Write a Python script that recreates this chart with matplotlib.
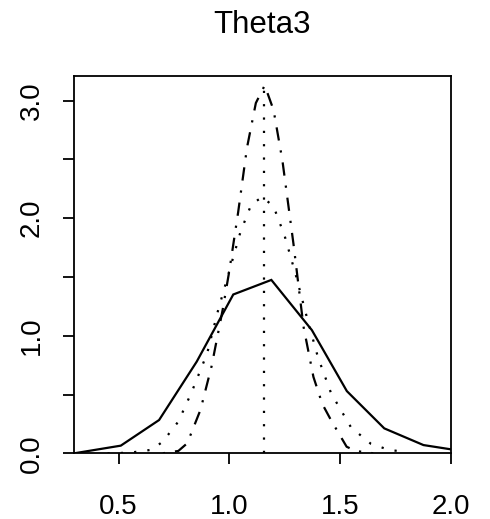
import matplotlib

matplotlib.use("Agg")

import matplotlib.pyplot as plt

plt.rcParams["font.family"] = ["Liberation Sans", "DejaVu Sans"]

# solid curve (polyline)
solid_x = [0.30, 0.51, 0.683, 0.853, 1.018, 1.19, 1.373, 1.531, 1.70, 1.877, 2.00]
solid_y = [0.0, 0.065, 0.283, 0.78, 1.351, 1.475, 1.048, 0.529, 0.212, 0.07, 0.034]

# dotted curve
dot_x = [0.45, 0.55, 0.65, 0.70, 0.77, 0.83, 0.90, 0.95, 1.00, 1.05, 1.10, 1.15,
         1.20, 1.25, 1.30, 1.35, 1.40, 1.46, 1.55, 1.64, 1.72, 1.80]
dot_y = [0.0, 0.005, 0.03, 0.10, 0.27, 0.52, 0.85, 1.22, 1.55, 1.88, 2.12, 2.18,
         2.10, 1.85, 1.52, 1.16, 0.82, 0.51, 0.22, 0.08, 0.03, 0.01]

# dot-dash curve
dd_x = [0.70, 0.77, 0.81, 0.87, 0.92, 0.97, 1.00, 1.04, 1.08, 1.12, 1.16, 1.20,
        1.24, 1.29, 1.335, 1.38, 1.42, 1.46, 1.53, 1.57, 1.65]
dd_y = [0.0, 0.02, 0.085, 0.37, 0.74, 1.22, 1.55, 2.05, 2.60, 2.98, 3.13, 2.92,
        2.49, 1.78, 1.08, 0.65, 0.42, 0.28, 0.056, 0.02, 0.0]

# vertical reference line
vline_x = 1.159
vline_top = 3.13

x_ticks = [0.5, 1.0, 1.5, 2.0]
y_ticks = [0.0, 1.0, 2.0, 3.0]
y_minor = [0.5, 1.5, 2.5]

fig = plt.figure(figsize=(4.9, 5.19), dpi=100)
ax = fig.add_axes([0.1516, 0.1266, 0.7682, 0.727])

lw = 1.6
ax.plot(solid_x, solid_y, color="black", lw=lw, solid_joinstyle="miter")
ax.plot(dot_x, dot_y, color="black", lw=lw, linestyle=(0, (1, 5.0)))
ax.plot(dd_x, dd_y, color="black", lw=lw, linestyle=(0, (1, 4.5, 6.0, 4.5)))
ax.plot([vline_x, vline_x], [0, vline_top], color="black", lw=lw, linestyle=(0, (1, 5.0)))

ax.set_xlim(0.3, 2.0)
ax.set_ylim(0, 3.21)
ax.set_xticks(x_ticks)
ax.set_xticklabels([f"{v:.1f}" for v in x_ticks])
ax.set_yticks(y_ticks)
ax.set_yticklabels([f"{v:.1f}" for v in y_ticks], rotation=90, va="center")
ax.set_yticks(y_minor, minor=True)

for side in ax.spines.values():
    side.set_linewidth(1.3)
ax.tick_params(axis="both", which="both", direction="out", length=8, width=1.3,
               labelsize=20, color="black")
ax.tick_params(axis="x", pad=21)
ax.tick_params(axis="y", pad=13)

fig.text(0.5357, 1 - 33 / 519, "Theta3", ha="center", va="baseline", fontsize=22.5)

fig.savefig("out.png", dpi=100)
